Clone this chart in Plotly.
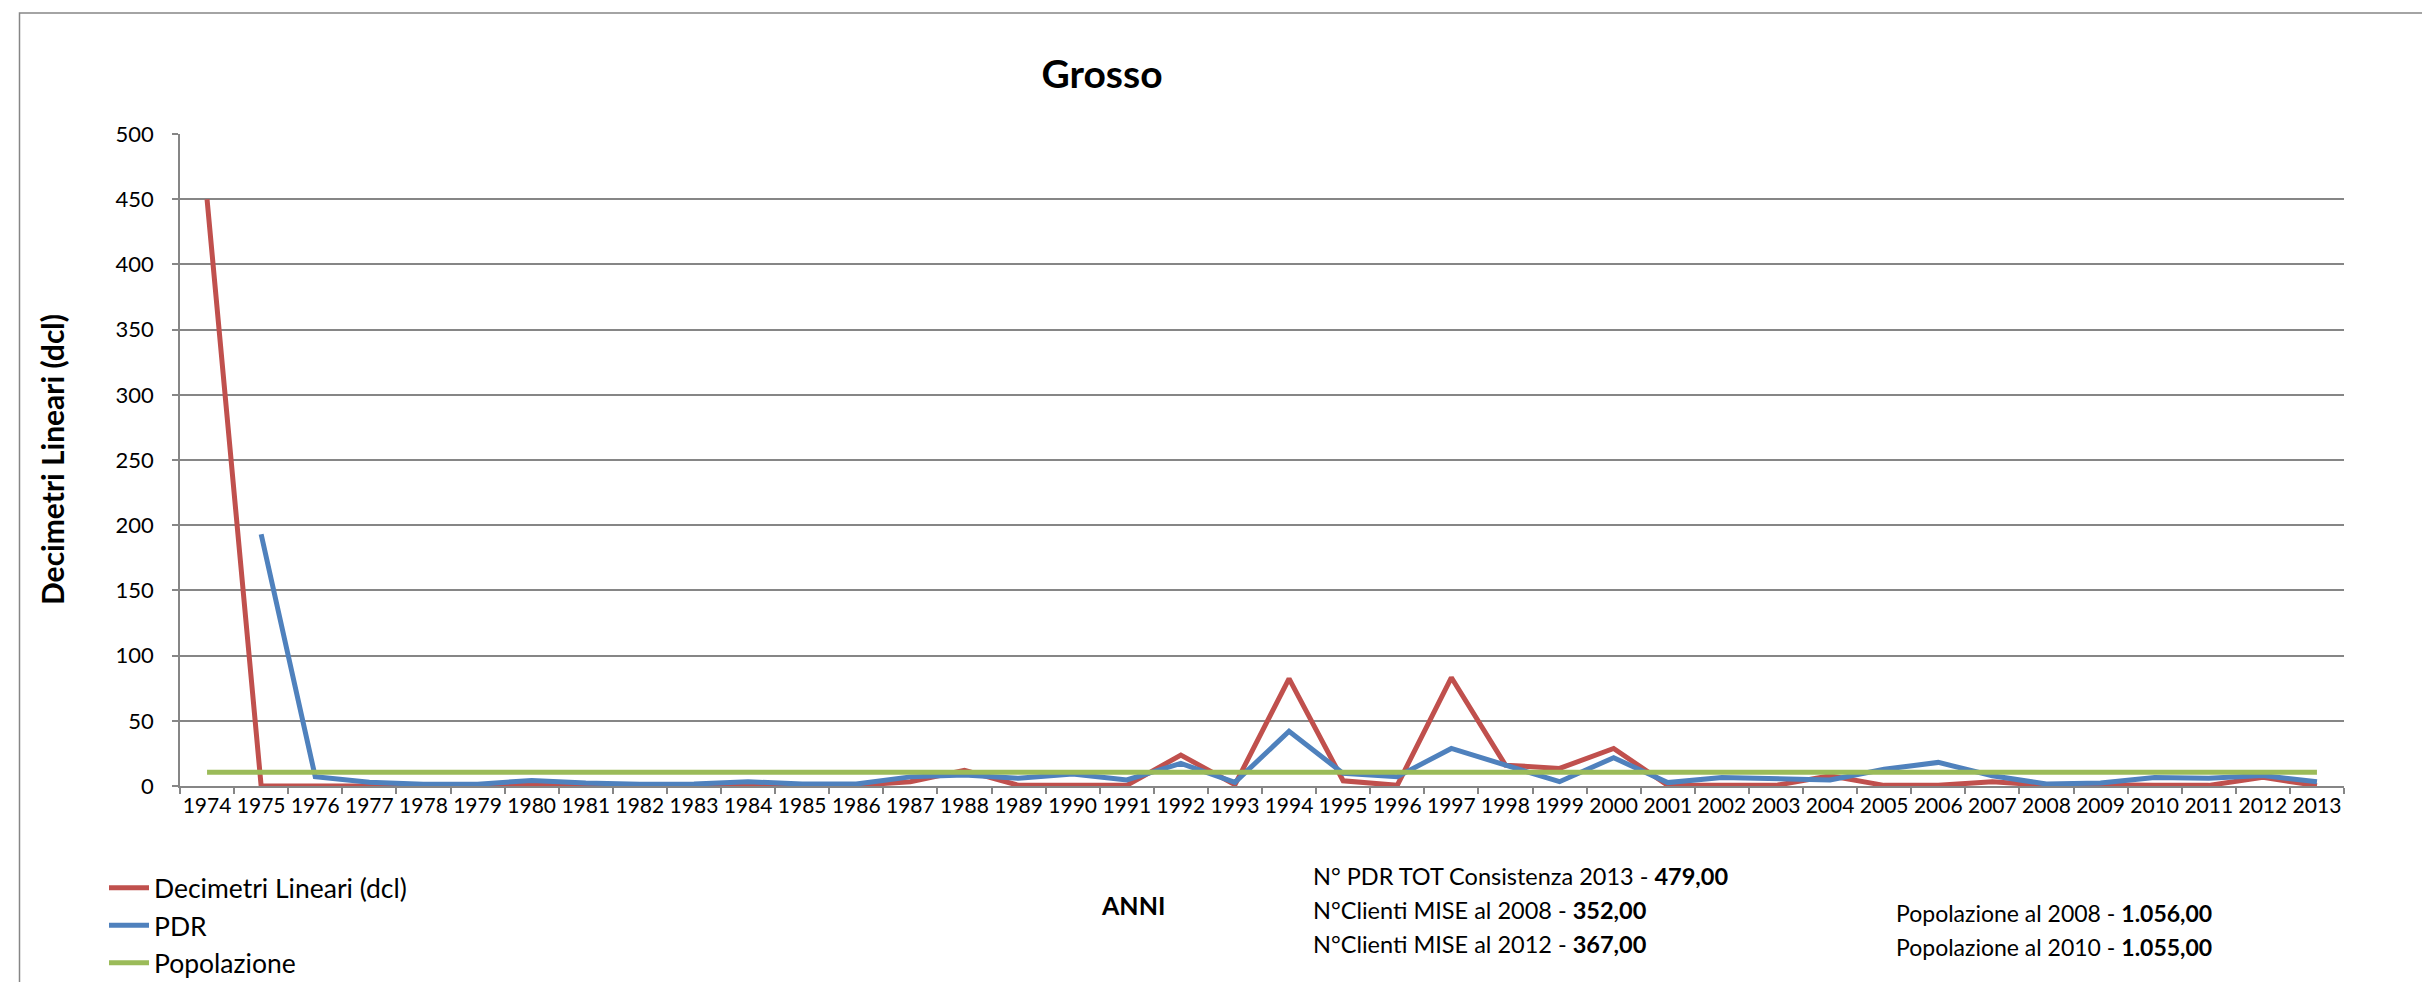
import plotly.graph_objects as go

years = [str(y) for y in range(1974, 2014)]
decimetri = [450, 0, 0, 0, 0, 0, 1.5, 0.5, 0, 0.5,
             1, 0.5, 0.5, 3.3, 12, 0.5, 0.5, 0.5, 23.7, 1,
             82.4, 4, 0.5, 83.2, 16, 13.5, 28.8, 0.5, 0.5, 0.5,
             7.9, 0.5, 0.5, 3.3, 0.5, 1, 0.5, 0.5, 6.6, 0.3]
pdr = [None, 193, 7.1, 2.8, 1.3, 1.3, 4.3, 2.3, 1.3, 1.5,
       3.3, 1.5, 1.5, 7, 8.4, 5.9, 9.2, 4.6, 17.3, 2.8,
       42, 9.7, 7.1, 28.8, 16, 3.3, 21.7, 2.6, 6.6, 5.4,
       4.6, 12.8, 18.1, 7.9, 1.5, 2.3, 6.6, 5.9, 8, 3.3]
popolazione = [10.56] * 40

y_ticks = [0, 50, 100, 150, 200, 250, 300, 350, 400, 450, 500]

W, H = 2430, 982
L, R, T, B = 172, 94, 126, 204
PW, PH = W - L - R, H - T - B

def px(x):
    return (x - L) / PW

def py(y):
    return (H - B - y) / PH

FONT = "Lato"
GRID = "#868686"

fig = go.Figure()
fig.add_trace(go.Scatter(x=years, y=decimetri, mode="lines", name="Decimetri Lineari (dcl)",
                         line=dict(color="#C0504D", width=5)))
fig.add_trace(go.Scatter(x=years, y=pdr, mode="lines", name="PDR",
                         line=dict(color="#4F81BD", width=5)))
fig.add_trace(go.Scatter(x=years, y=popolazione, mode="lines", name="Popolazione",
                         line=dict(color="#9BBB59", width=5)))

fig.update_layout(
    width=W, height=H,
    margin=dict(l=L, r=R, t=T, b=B, autoexpand=False),
    paper_bgcolor="white", plot_bgcolor="white",
    font=dict(family=FONT, color="black"),
    title=dict(text="<b>Grosso</b>", x=1094 / W, xref="container", xanchor="center",
               y=1 - 66 / H, yref="container", yanchor="middle",
               font=dict(family=FONT, size=39, color="black")),
    showlegend=True,
    legend=dict(x=px(96), y=py(856), xanchor="left", yanchor="top", orientation="v",
                font=dict(family=FONT, size=26.5, color="black"), bgcolor="rgba(0,0,0,0)",
                tracegroupgap=0, itemwidth=40),
    xaxis=dict(type="category", range=[-0.5, 39.5], tickson="boundaries",
               ticks="outside", ticklen=6, tickcolor=GRID, tickwidth=1.5,
               showline=True, linecolor=GRID, linewidth=1.5, showgrid=False,
               tickfont=dict(family=FONT, size=21, color="black"), tickangle=0,
               zeroline=False, fixedrange=True),
    yaxis=dict(range=[0, 500], tickvals=y_ticks, ticks="outside", ticklen=6,
               tickcolor=GRID, tickwidth=1.5, showline=True, linecolor=GRID, linewidth=1.5,
               showgrid=True, gridcolor=GRID, gridwidth=1.5, zeroline=False,
               ticklabelstandoff=14,
               tickfont=dict(family=FONT, size=22, color="black"), fixedrange=True),
)

# outer frame
fig.add_shape(type="rect", xref="paper", yref="paper",
              x0=px(11.5), x1=px(2416), y0=py(978), y1=py(5),
              line=dict(color=GRID, width=1.5), fillcolor="rgba(0,0,0,0)", layer="below")

# axis titles
fig.add_annotation(xref="paper", yref="paper", x=px(44), y=0.5, text="<b>Decimetri Lineari (dcl)</b>",
                   textangle=-90, showarrow=False, xanchor="center", yanchor="middle",
                   font=dict(family=FONT, size=30, color="black"))
fig.add_annotation(xref="paper", yref="paper", x=px(1125), y=py(897), text="<b>ANNI</b>",
                   showarrow=False, xanchor="center", yanchor="middle",
                   font=dict(family=FONT, size=25, color="black"))

info_left = ["N° PDR TOT Consistenza 2013 - <b>479,00</b>",
             "N°Clienti MISE al 2008 - <b>352,00</b>",
             "N°Clienti MISE al 2012 - <b>367,00</b>"]
info_right = ["Popolazione al 2008 - <b>1.056,00</b>",
              "Popolazione al 2010 - <b>1.055,00</b>"]
for i, t in enumerate(info_left):
    fig.add_annotation(xref="paper", yref="paper", x=px(1303), y=py(868 + 34 * i), text=t,
                       showarrow=False, xanchor="left", yanchor="middle",
                       font=dict(family=FONT, size=23.5, color="black"))
for i, t in enumerate(info_right):
    fig.add_annotation(xref="paper", yref="paper", x=px(1886), y=py(905 + 34 * i), text=t,
                       showarrow=False, xanchor="left", yanchor="middle",
                       font=dict(family=FONT, size=23, color="black"))

fig.write_html("out.html", config={"displayModeBar": False})
